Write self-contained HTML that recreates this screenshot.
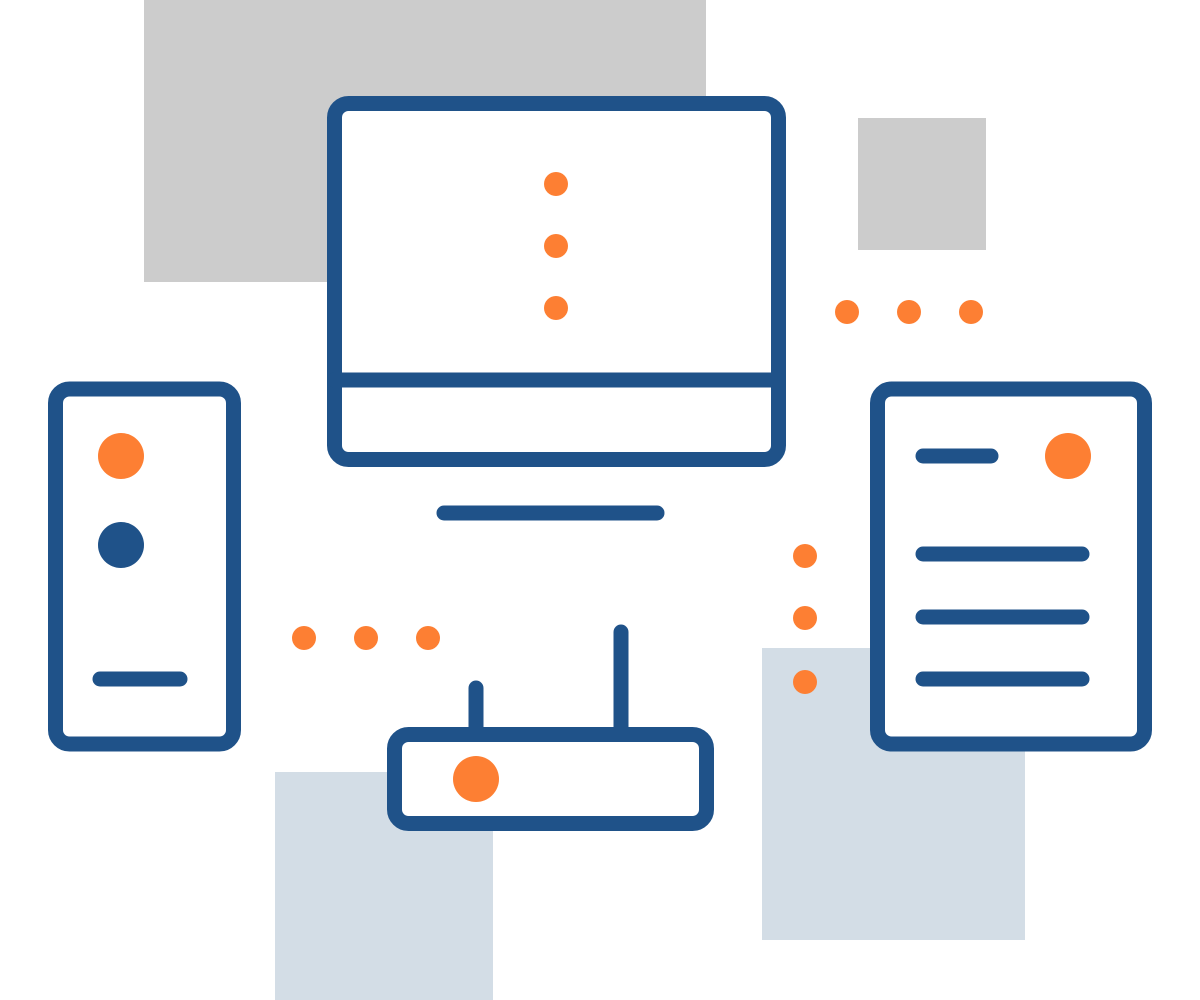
<!DOCTYPE html>
<html><head><meta charset="utf-8"><style>html,body{margin:0;padding:0;background:#fff}svg{display:block}</style></head>
<body>
<svg width="1200" height="1000" viewBox="0 0 1200 1000" xmlns="http://www.w3.org/2000/svg">
<rect x="144" y="0" width="562" height="282" fill="#cccccc"/>
<rect x="858" y="118" width="128" height="132" fill="#cccccc"/>
<rect x="275" y="772" width="218" height="228" fill="#d3dde6"/>
<rect x="762" y="648" width="263" height="292" fill="#d3dde6"/>
<g fill="#fff" stroke="#1f5289" stroke-width="15" stroke-linecap="round" stroke-linejoin="round">
<rect x="334.5" y="103.5" width="444" height="356" rx="14"/>
<line x1="334.5" y1="380" x2="778.5" y2="380"/>
<line x1="444" y1="513" x2="657" y2="513"/>
<rect x="55.5" y="389" width="178" height="355" rx="14"/>
<line x1="100" y1="679" x2="180" y2="679"/>
<rect x="877.5" y="389" width="267" height="355" rx="14"/>
<line x1="923" y1="456" x2="991" y2="456"/>
<line x1="923" y1="554" x2="1082" y2="554"/>
<line x1="923" y1="617" x2="1082" y2="617"/>
<line x1="923" y1="679" x2="1082" y2="679"/>
<line x1="476" y1="688" x2="476" y2="735"/>
<line x1="621" y1="632" x2="621" y2="735"/>
<rect x="394.5" y="734.5" width="312" height="89" rx="14"/>
</g>
<g fill="#fd7f33">
<circle cx="556" cy="184" r="12"/><circle cx="556" cy="246" r="12"/><circle cx="556" cy="308" r="12"/>
<circle cx="121" cy="456" r="23"/>
<circle cx="1068" cy="456" r="23"/>
<circle cx="476" cy="779" r="23"/>
<circle cx="304" cy="638" r="12"/><circle cx="366" cy="638" r="12"/><circle cx="428" cy="638" r="12"/>
<circle cx="847" cy="312" r="12"/><circle cx="909" cy="312" r="12"/><circle cx="971" cy="312" r="12"/>
<circle cx="805" cy="556" r="12"/><circle cx="805" cy="618" r="12"/><circle cx="805" cy="682" r="12"/>
</g>
<circle cx="121" cy="545" r="23" fill="#1f5289"/>
</svg>
</body></html>
